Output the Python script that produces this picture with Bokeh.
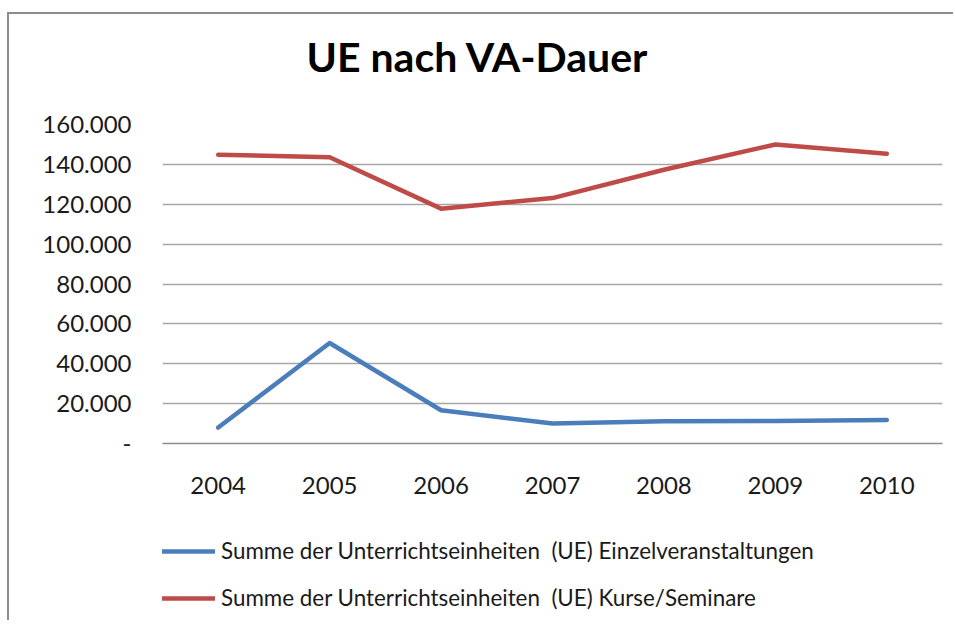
from bokeh.plotting import figure
from bokeh.layouts import column
from bokeh.models import (ColumnDataSource, CustomJSTickFormatter, Legend, LegendItem,
                          FixedTicker, Range1d, Label)
from bokeh.embed import file_html
from bokeh.resources import INLINE

years = ["2004", "2005", "2006", "2007", "2008", "2009", "2010"]
einzel = [8000, 50400, 16700, 10000, 11200, 11300, 11800]
kurse = [144800, 143600, 117800, 123100, 137300, 150000, 145300]
y_ticks = [0, 20000, 40000, 60000, 80000, 100000, 120000, 140000, 160000]
title_text = "UE nach VA-Dauer"
label_einzel = "Summe der Unterrichtseinheiten  (UE) Einzelveranstaltungen"
label_kurse = "Summe der Unterrichtseinheiten  (UE) Kurse/Seminare"

FONT = "Lato"
GRID = "#a6a6a6"
BLUE = "#4a7ebb"
RED = "#be4b48"
W = 944


def bare(fig):
    fig.axis.visible = False
    fig.grid.visible = False
    fig.outline_line_color = None
    fig.background_fill_color = "white"
    fig.border_fill_color = "white"


# title panel (frame aligned with the main plot by the column layout)
pt = figure(width=W, height=70, output_backend="svg", toolbar_location=None,
            min_border=0, min_border_left=0, min_border_right=0,
            min_border_top=0, min_border_bottom=0)
bare(pt)
pt.add_layout(Label(x=144, y=28, x_units="screen", y_units="screen", text=title_text,
                    text_font=FONT, text_font_style="bold", text_font_size="41px",
                    text_color="black", text_align="left",
                    text_baseline="alphabetic"))

p = figure(x_range=years, y_range=Range1d(0, 160000), width=W, height=431,
           output_backend="svg", toolbar_location=None,
           min_border_left=153, min_border_right=11, min_border_top=40,
           min_border_bottom=72)
p.outline_line_color = None
p.background_fill_color = "white"
p.border_fill_color = "white"

src = ColumnDataSource(dict(x=years, e=einzel, k=kurse))
r1 = p.line("x", "e", source=src, line_color=BLUE, line_width=4.5,
            line_join="round", line_cap="round")
r2 = p.line("x", "k", source=src, line_color=RED, line_width=4.5,
            line_join="round", line_cap="round")

p.xgrid.grid_line_color = None
p.ygrid.grid_line_color = GRID
p.ygrid.grid_line_width = 1.3
p.yaxis.ticker = FixedTicker(ticks=y_ticks)
p.yaxis.formatter = CustomJSTickFormatter(code="""
    if (tick == 0) { return '-'; }
    return (tick / 1000).toFixed(0) + '.000';
""")
p.yaxis.axis_line_color = None
p.yaxis.major_tick_line_color = None
p.yaxis.minor_tick_line_color = None
p.yaxis.major_label_standoff = 25
p.yaxis.major_label_text_font = FONT
p.yaxis.major_label_text_font_size = "24px"
p.yaxis.major_label_text_color = "#1a1a1a"

p.xaxis.axis_line_color = "#8c8c8c"
p.xaxis.axis_line_width = 1.5
p.xaxis.major_tick_line_color = None
p.xaxis.minor_tick_line_color = None
p.xaxis.major_label_standoff = 27
p.xaxis.major_label_text_font = FONT
p.xaxis.major_label_text_font_size = "24px"
p.xaxis.major_label_text_color = "#1a1a1a"
p.x_range.range_padding = 0

# legend panel (frames are aligned with the main plot by the column layout)
pl = figure(width=W, height=105, output_backend="svg", toolbar_location=None,
            x_range=p.x_range, y_range=p.y_range,
            min_border=0, min_border_left=0, min_border_right=0,
            min_border_top=0, min_border_bottom=0)
bare(pl)
l1 = pl.line("x", "e", source=src, line_color=BLUE, line_width=4.5, line_cap="round",
             visible=False)
l2 = pl.line("x", "k", source=src, line_color=RED, line_width=4.5, line_cap="round",
             visible=False)
legend = Legend(items=[LegendItem(label=label_einzel, renderers=[l1]),
                       LegendItem(label=label_kurse, renderers=[l2])],
                location=(0, 9), orientation="vertical",
                border_line_color=None, background_fill_alpha=0,
                inactive_fill_alpha=0,
                padding=0, margin=0, spacing=20, glyph_width=53, glyph_height=20,
                label_height=20, label_standoff=6,
                label_text_font=FONT, label_text_font_size="22.4px",
                label_text_color="#1a1a1a")
pl.add_layout(legend, "center")

layout = column(pt, p, pl, spacing=0,
                styles={"border-top": "2px solid #8c8c8c",
                        "border-left": "2px solid #8c8c8c",
                        "margin-left": "7px", "margin-top": "12px"})

open("out.html", "w").write(file_html(layout, INLINE))
